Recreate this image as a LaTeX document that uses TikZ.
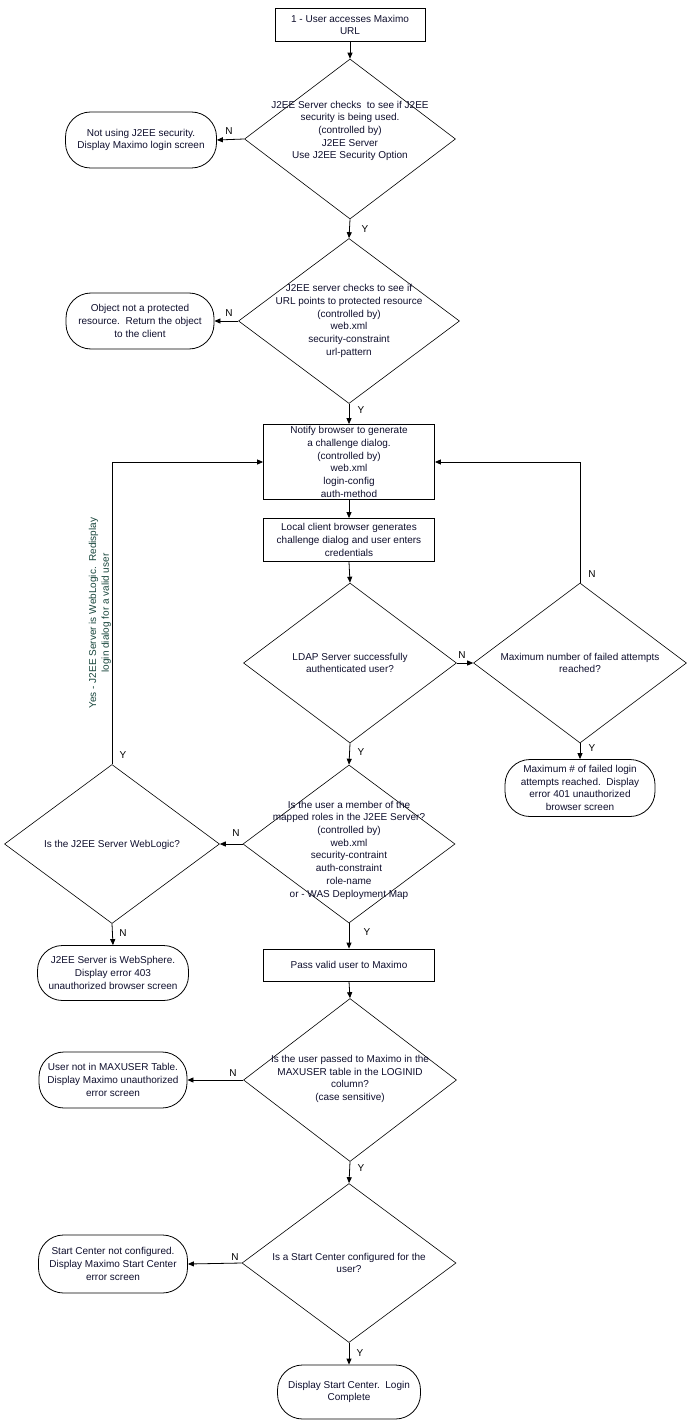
\documentclass[tikz,border=0pt]{standalone}
\usepackage{fontspec}
\setmainfont{Liberation Sans}
\usetikzlibrary{shapes.geometric,arrows.meta}
\definecolor{txtc}{RGB}{15,15,45}
\definecolor{vtxt}{RGB}{25,70,60}
\tikzset{
  base/.style={draw=black, line width=0.8pt, inner sep=0pt, font=\fontsize{10}{12.7}\selectfont, text=txtc, align=center},
  procbox/.style={base, rectangle},
  termbox/.style={base, rectangle, rounded corners=25pt},
  dia/.style={draw=black, line width=0.6pt, shape=diamond, inner sep=0pt, aspect=1},
  dtext/.style={inner sep=0pt, font=\fontsize{10}{12.7}\selectfont, text=txtc, align=center},
  lab/.style={inner sep=0pt, font=\fontsize{10}{12}\selectfont, text=black},
  conn/.style={line width=0.8pt, -{Triangle[length=6pt,width=5pt]}}
}
\begin{document}
\begin{tikzpicture}[x=1pt,y=-1pt]
\useasboundingbox (0,0) rectangle (693,1423);
% process boxes
\node[procbox, minimum width=150pt, minimum height=33pt] (b1) at (350,25) {1 - User accesses Maximo\\URL};
\node[procbox, minimum width=171pt, minimum height=75pt] (b3) at (349,462) {Notify browser to generate\\a challenge dialog.\\(controlled by)\\web.xml\\login-config\\auth-method};
\node[procbox, minimum width=171pt, minimum height=43pt] (b4) at (349,540) {Local client browser generates\\challenge dialog and user enters\\credentials};
\node[procbox, minimum width=171pt, minimum height=32pt] (b5) at (349,965) {Pass valid user to Maximo};
% diamonds
\node[dia, minimum width=211pt, minimum height=160pt] (d1) at (350,139) {};
\node[dtext] (d1t) at (350,131) {J2EE Server checks\ \ to see if J2EE\\security is being used.\\(controlled by)\\J2EE Server\\Use J2EE Security Option};
\node[dia, minimum width=221pt, minimum height=165pt] (d2) at (349,321) {};
\node[dtext] (d2t) at (349,321) {J2EE server checks to see if\\URL points to protected resource\\(controlled by)\\web.xml\\security-constraint\\url-pattern};
\node[dia, minimum width=213pt, minimum height=160pt] (d3) at (350,663) {};
\node[dtext] (d3t) at (350,663) {LDAP Server successfully\\authenticated user?};
\node[dia, minimum width=213pt, minimum height=160pt] (d4) at (580,663) {};
\node[dtext] (d4t) at (580,663) {Maximum number of failed attempts\\reached?};
\node[dia, minimum width=212pt, minimum height=158pt] (d5) at (349,844) {};
\node[dtext] (d5t) at (349,850) {Is the user a member of the\\mapped roles in the J2EE Server?\\(controlled by)\\web.xml\\security-contraint\\auth-constraint\\role-name\\or - WAS Deployment Map};
\node[dia, minimum width=215pt, minimum height=159pt] (d6) at (112,844) {};
\node[dtext] (d6t) at (112,845) {Is the J2EE Server WebLogic?};
\node[dia, minimum width=213pt, minimum height=163pt] (d7) at (350,1080) {};
\node[dtext] (d7t) at (350,1079) {Is the user passed to Maximo in the\\MAXUSER table in the LOGINID\\column?\\(case sensitive)};
\node[dia, minimum width=214pt, minimum height=159pt] (d8) at (349,1263) {};
\node[dtext] (d8t) at (349,1263) {Is a Start Center configured for the\\user?};
% terminals
\node[termbox, minimum width=151pt, minimum height=56pt] (t1) at (141,140) {Not using J2EE security.\\Display Maximo login screen};
\node[termbox, minimum width=148pt, minimum height=56pt] (t2) at (140,321) {Object not a protected\\resource.\ \ Return the object\\to the client};
\node[termbox, minimum width=150pt, minimum height=57pt] (t4) at (580,788) {Maximum \# of failed login\\attempts reached.\ \ Display\\error 401 unauthorized\\browser screen};
\node[termbox, minimum width=151pt, minimum height=55pt] (t6) at (113,973) {J2EE Server is WebSphere.\\Display error 403\\unauthorized browser screen};
\node[termbox, minimum width=148pt, minimum height=56pt] (t7) at (113,1080) {User not in MAXUSER Table.\\Display Maximo unauthorized\\error screen};
\node[termbox, minimum width=149pt, minimum height=58pt] (t8) at (113,1264) {Start Center not configured.\\Display Maximo Start Center\\error screen};
\node[termbox, minimum width=143pt, minimum height=54pt] (t9) at (349,1392) {Display Start Center.\ \ Login\\Complete};
% connectors
\draw[conn] (b1) -- (d1.north);
\draw[conn] (d1.west) -- (t1.east);
\draw[conn] (d1.south) -- (d2.north);
\draw[conn] (d2.west) -- (t2.east);
\draw[conn] (d2.south) -- (b3.north);
\draw[conn] (b3.south) -- (b4.north);
\draw[conn] (b4.south) -- (d3.north);
\draw[conn] (d3.east) -- (d4.west);
\draw[conn] (d4.north) |- (b3.east);
\draw[conn] (d4.south) -- (t4.north);
\draw[conn] (d3.south) -- (d5.north);
\draw[conn] (d5.west) -- (d6.east);
\draw[conn] (d6.north) |- (b3.west);
\draw[conn] (d6.south) -- (t6.north);
\draw[conn] (d5.south) -- (b5.north);
\draw[conn] (b5.south) -- (d7.north);
\draw[conn] (d7.west) -- (t7.east);
\draw[conn] (d7.south) -- (d8.north);
\draw[conn] (d8.west) -- (t8.east);
\draw[conn] (d8.south) -- (t9.north);
% labels
\node[lab] (l1) at (229,131) {N};
\node[lab] (l2) at (365,229) {Y};
\node[lab] (l3) at (229,313) {N};
\node[lab] (l4) at (361,410) {Y};
\node[lab] (l5) at (462,655) {N};
\node[lab] (l6) at (592,574) {N};
\node[lab] (l7) at (592,748) {Y};
\node[lab] (l8) at (361,752) {Y};
\node[lab] (l9) at (236,833) {N};
\node[lab] (l10) at (123,755) {Y};
\node[lab] (l11) at (123,933) {N};
\node[lab] (l12) at (367,932) {Y};
\node[lab] (l13) at (233,1073) {N};
\node[lab] (l14) at (361,1168) {Y};
\node[lab] (l15) at (235,1257) {N};
\node[lab] (l16) at (360,1353) {Y};
\node[dtext, text=vtxt, rotate=90] (vt) at (100,613) {Yes - J2EE Server is WebLogic.\ \ Redisplay\\login dialog for a valid user};
\end{tikzpicture}
\end{document}
